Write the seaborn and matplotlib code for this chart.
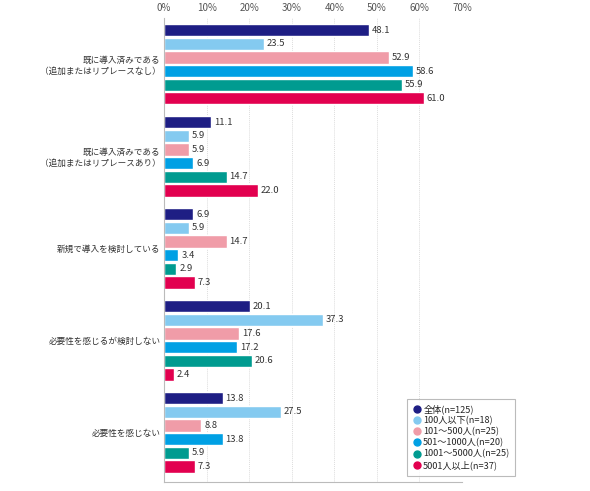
import matplotlib
matplotlib.use("Agg")
import matplotlib.pyplot as plt
import seaborn as sns
import pandas as pd
from matplotlib.lines import Line2D

categories = [
    "既に導入済みである\n（追加またはリプレースなし）",
    "既に導入済みである\n（追加またはリプレースあり）",
    "新規で導入を検討している",
    "必要性を感じるが検討しない",
    "必要性を感じない",
]
series = ["全体(n=125)", "100人以下(n=18)", "101～500人(n=25)",
          "501～1000人(n=20)", "1001～5000人(n=25)", "5001人以上(n=37)"]
values = [
    [48.1, 23.5, 52.9, 58.6, 55.9, 61.0],
    [11.1, 5.9, 5.9, 6.9, 14.7, 22.0],
    [6.9, 5.9, 14.7, 3.4, 2.9, 7.3],
    [20.1, 37.3, 17.6, 17.2, 20.6, 2.4],
    [13.8, 27.5, 8.8, 13.8, 5.9, 7.3],
]
colors = ["#1e1e84", "#84caf0", "#f09ca8", "#00a0e4", "#009b90", "#e2004f"]
xticks = [0, 10, 20, 30, 40, 50, 60, 70]

rows = []
for c, vals in zip(categories, values):
    for s, v in zip(series, vals):
        rows.append({"cat": c, "series": s, "val": v})
df = pd.DataFrame(rows)

sns.set_theme(style="white")
plt.rcParams['font.family'] = ['Noto Sans CJK JP', 'DejaVu Sans']

fig = plt.figure(figsize=(5.9, 4.91), dpi=100)
ax = fig.add_axes([0.278, 0.018, 0.505, 0.945])

sns.barplot(data=df, y="cat", x="val", hue="series", order=categories,
            hue_order=series, palette=colors, orient="h", width=0.89,
            gap=0.1, legend=False, ax=ax, saturation=1, errorbar=None)

for cont in ax.containers:
    ax.bar_label(cont, fmt="%.1f", padding=2, fontsize=6.8, color="#333333")

ax.set_xlim(0, 70)
ax.set_ylim(4.54, -0.5)
ax.set_xticks(xticks)
ax.set_xticklabels([f"{t}%" for t in xticks])
ax.xaxis.tick_top()
ax.tick_params(axis="x", length=0, labelsize=7, colors="#555555", pad=4)
ax.tick_params(axis="y", length=0, labelsize=6.2, colors="#333333", pad=2.5)
ax.set_xlabel("")
ax.set_ylabel("")
ax.grid(axis="x", color="#dddddd", linestyle=(0, (1, 1)), linewidth=0.7)
ax.set_axisbelow(True)
for s in ["top", "right"]:
    ax.spines[s].set_visible(False)
for s in ["left", "bottom"]:
    ax.spines[s].set_color("#bbbbbb")
    ax.spines[s].set_linewidth(0.8)
for lbl in ax.get_yticklabels():
    lbl.set_horizontalalignment("right")
    lbl.set_multialignment("right")

handles = [Line2D([0], [0], marker="o", linestyle="", markersize=5,
                  markerfacecolor=c, markeredgecolor=c) for c in colors]
leg = ax.legend(handles, series, loc="lower right",
                bbox_to_anchor=(515 / 590, 1 - 476 / 491),
                bbox_transform=fig.transFigure, fontsize=6.6, frameon=True,
                fancybox=False, edgecolor="#aaaaaa", handletextpad=0.2,
                labelspacing=0.22, borderpad=0.6, handlelength=1.0,
                borderaxespad=0)
leg.get_frame().set_linewidth(0.8)

fig.savefig("out.png", dpi=100)
